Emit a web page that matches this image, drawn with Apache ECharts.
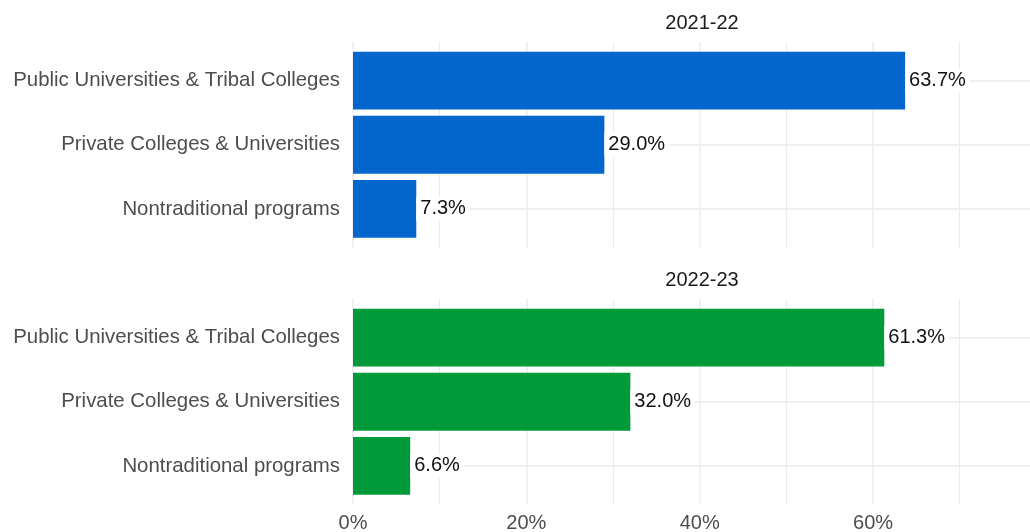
<!DOCTYPE html>
<html>
<head>
<meta charset="utf-8">
<script src="https://cdn.jsdelivr.net/npm/echarts@6/dist/echarts.min.js"></script>
<style>
  html, body { margin: 0; padding: 0; background: #fff; }
  #chart { width: 1030px; height: 532px; }
</style>
</head>
<body>
<div id="chart"></div>
<script>
// Enrollment share by institution type, one panel per academic year
const categories = [
  'Public Universities & Tribal Colleges',
  'Private Colleges & Universities',
  'Nontraditional programs'
];
const years = ['2021-22', '2022-23'];
const share2122 = [63.7, 29.0, 7.3];
const share2223 = [61.3, 32.0, 6.6];
const panelValues = [share2122, share2223];
const panelColors = ['#0366cc', '#009a3b'];

const xTickStep = 20;
const xMax = 80;

const FONT = 'Liberation Sans, Arial, Helvetica, sans-serif';
const GRID_COLOR = '#ebebeb';

// panel geometry (px)
const panelLeft = 353;
const panelWidth = 693.4;
const panelHeight = 205.5;
const panelTops = [42, 299];
const stripCenterX = 697;
const catExpand = 0.6;                       // discrete padding around outer categories
const band = panelHeight / (categories.length - 1 + 2 * catExpand);

const grid = [], xAxis = [], yAxis = [], series = [], title = [];

years.forEach((yr, p) => {
  const top = panelTops[p];
  const isLast = p === years.length - 1;

  // background panel: vertical grid lines across the full panel height
  grid.push({ left: panelLeft, width: panelWidth, top: top, height: panelHeight, outerBoundsMode: 'none' });
  const bgIdx = grid.length - 1;
  xAxis.push({
    type: 'value', gridIndex: bgIdx, min: 0, max: xMax, interval: xTickStep,
    axisLine: { show: false }, axisTick: { show: false },
    splitLine: { show: true, lineStyle: { color: GRID_COLOR, width: 1.5 } },
    minorTick: { show: false, splitNumber: 2 },
    minorSplitLine: { show: true, lineStyle: { color: GRID_COLOR, width: 1 } },
    axisLabel: {
      show: isLast, showMaxLabel: false, margin: 9,
      fontSize: 20, fontFamily: FONT, color: '#4d4d4d',
      formatter: v => v + '%'
    }
  });
  yAxis.push({ type: 'value', gridIndex: bgIdx, min: 0, max: 1, show: false });

  // bar area: category bands only
  grid.push({
    left: panelLeft, width: panelWidth,
    top: top + (catExpand - 0.5) * band,
    height: band * categories.length,
    outerBoundsMode: 'none'
  });
  const barIdx = grid.length - 1;
  xAxis.push({ type: 'value', gridIndex: barIdx, min: 0, max: xMax, show: false });
  yAxis.push({
    type: 'category', gridIndex: barIdx, data: categories, inverse: true,
    axisLine: { show: false },
    axisTick: {
      show: true, inside: true, alignWithLabel: true, length: panelWidth,
      lineStyle: { color: GRID_COLOR, width: 1.5 }
    },
    splitLine: { show: false },
    axisLabel: { fontSize: 20.4, fontFamily: FONT, color: '#4d4d4d', margin: 13 }
  });

  series.push({
    type: 'bar',
    xAxisIndex: xAxis.length - 1,
    yAxisIndex: yAxis.length - 1,
    data: panelValues[p],
    barWidth: '90%',
    itemStyle: { color: panelColors[p] },
    label: {
      show: true, position: 'right', distance: 0,
      formatter: d => d.value.toFixed(1) + '%',
      fontSize: 20, fontFamily: FONT, color: '#111',
      backgroundColor: '#fff', padding: [2, 4, 2, 4]
    },
    animation: false
  });

  title.push({
    text: yr,
    left: stripCenterX,
    textAlign: 'center',
    top: top - 34,
    textStyle: { fontSize: 20, fontFamily: FONT, color: '#1a1a1a', fontWeight: 'normal' }
  });
});

const chart = echarts.init(document.getElementById('chart'), null, { renderer: 'canvas' });
chart.setOption({
  backgroundColor: '#fff',
  animation: false,
  title, grid, xAxis, yAxis, series
});
</script>
</body>
</html>
